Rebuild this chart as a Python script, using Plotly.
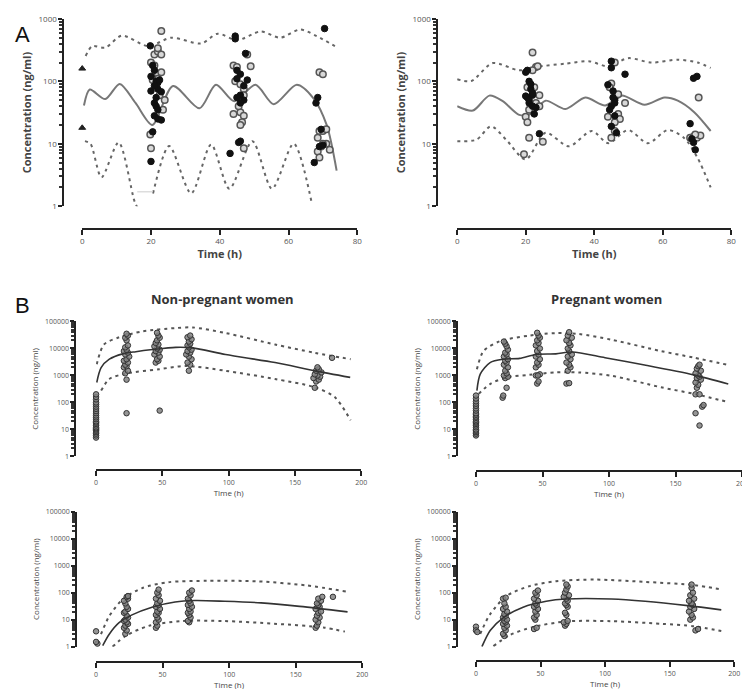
import plotly.graph_objects as go

# ---------- panel A, left ----------
a1_med_t = [0.5, 2.2, 6.7, 10.9, 15.5, 20.4, 26.4, 34.1, 38.9, 44.2, 50.4, 55.7, 62.4, 67.2, 71.1, 74]
a1_med_c = [41, 74, 52, 91, 45, 20, 84, 37, 88, 48, 88, 43, 88, 54, 20, 3.7]
a1_up_t = [1, 2.9, 6.7, 11.5, 19.2, 25.9, 34.6, 39.4, 45.1, 51.9, 57.6, 63.4, 68.2, 73.5]
a1_up_c = [255, 366, 346, 540, 366, 500, 405, 580, 456, 630, 500, 676, 530, 366]
a1_lo_t = [0.8, 2.4, 5.6, 10.6, 15.2, 16.3, None, 20.6, 25.3, 31.7, 37.5, 42.8, 49.5, 55.2, 61.5, 66.8]
a1_lo_c = [11, 10, 2.9, 10.5, 1.2, 0.9, None, 1.6, 9.2, 1.6, 9.7, 1.9, 11, 1.9, 10, 1.1]
a1_fill_t = [19.8, 20.5, 21, 20, 21.5, 22, 20, 22, 23, 21, 21.5, 22, 21, 22, 23, 20.5, 20, 21.5, 22.5, 21,
             44.5, 44.5, 43, 45, 46, 45, 47, 46, 45, 47, 46, 47.5, 46, 45.5, 48,
             70.5, 68.5, 68, 67.5, 69, 70, 69.5]
a1_fill_c = [370, 180, 150, 120, 100, 95, 70, 75, 68, 45, 40, 35, 28, 25, 24, 15.5, 5.2, 55, 105, 85,
             530, 480, 7, 150, 130, 110, 85, 60, 55, 50, 45, 280, 11, 10.5, 105,
             700, 55, 45, 5, 9, 9.5, 17]
a1_open_t = [19.8, 20, 20, 21, 22, 23, 22, 23, 21, 22, 23, 24, 23.5, 22, 20.5, 22.5,
             44, 45, 44.5, 46, 47, 47, 44, 46, 47, 46.5, 46, 48, 49, 47, 45.5,
             69, 70, 68.5, 69, 70, 71, 71, 69.5, 68.5, 72, 69, 70]
a1_open_c = [14, 8.5, 200, 270, 300, 640, 340, 270, 180, 130, 140, 50, 35, 110, 105, 60,
             180, 170, 100, 90, 75, 60, 30, 32, 28, 22, 20, 270, 175, 8.5, 40,
             140, 130, 12.5, 16, 16, 17, 10, 9, 7.5, 8, 6, 10]
a1_tri_t = [0, 0]
a1_tri_c = [160, 18]
a1_gap_t = [16, 20.5]
a1_gap_c = [1.7, 1.7]

# ---------- panel A, right ----------
a2_med_t = [0, 4.6, 9.4, 13.3, 18.1, 21.5, 25.8, 31.6, 37.4, 43.2, 48, 54.7, 60.5, 64.4, 69.2, 74]
a2_med_c = [40, 34, 59, 48, 29, 30, 49, 36, 55, 41, 59, 42, 55, 49, 32, 16]
a2_up_t = [0, 4.1, 10.4, 18.1, 23, 31.6, 38.4, 44.1, 49.9, 56.7, 64.4, 70.2, 74]
a2_up_c = [108, 101, 196, 150, 170, 192, 210, 174, 235, 200, 222, 200, 164]
a2_lo_t = [0, 5.6, 9.9, 14.3, 20, 25.8, 32.6, 39.3, 44.1, 49.9, 55.7, 61.5, 66.3, 70.2, 74]
a2_lo_c = [11, 11.6, 19, 11.6, 5.6, 15, 9.1, 16, 10.2, 16.6, 10.2, 16.6, 12.3, 5.9, 2]
a2_fill_t = [20, 20.5, 21, 21.5, 22, 20, 21, 22, 22.5, 23, 21.5, 20.5, 24, 22, 21,
             45, 45, 44, 45.5, 46, 45, 44.5, 46, 45, 46.5, 49, 45.5, 46,
             68, 69, 70, 69, 69.5, 68.5]
a2_fill_c = [140, 55, 100, 75, 60, 58, 45, 40, 30, 38, 90, 150, 14.5, 65, 50,
             210, 165, 88, 70, 50, 40, 35, 28, 19, 15, 130, 55, 45,
             21, 112, 120, 10.5, 8, 12]
a2_open_t = [20, 19.5, 21, 20.5, 22, 23, 23.5, 22, 24, 25, 23, 22.5, 21, 24, 20.5,
             44, 45, 46.5, 47, 47, 47.5, 46, 45, 46, 49, 46, 44.5,
             68, 69, 70, 71, 70.5, 69.5]
a2_open_c = [27, 6.8, 12.5, 22, 290, 170, 175, 150, 60, 10.8, 45, 80, 35, 40, 80,
             27, 92, 60, 62, 30, 25, 22, 12.5, 16, 45, 200, 80,
             12.5, 13, 12.5, 13.5, 55, 14]

# ---------- panel B, non-pregnant (top) ----------
b1_med_t = [0.5, 3.8, 10, 20, 30, 42.6, 60, 72.7, 97.7, 135, 165, 191.7]
b1_med_c = [550, 1950, 4000, 6300, 7600, 9100, 11000, 10500, 6000, 3000, 1480, 850]
b1_up_t = [0.5, 6, 17.5, 35, 60, 73, 98, 135, 165, 192]
b1_up_c = [2600, 14000, 26000, 43000, 57000, 60000, 37000, 14000, 6900, 4000]
b1_lo_t = [3.8, 10, 22.5, 47.6, 67.7, 98, 135, 165, 180, 192]
b1_lo_c = [275, 740, 1180, 1700, 2250, 1480, 740, 365, 158, 22]
b1_obs_t = [0, 0, 0, 0, 0, 0, 0, 0, 0, 0, 0, 0, 0, 0, 0, 0, 0, 0, 0, 0, 0, 0, 0, 0,
            23, 23, 22, 24, 21, 23, 22, 24, 21, 23, 25, 22, 24, 21, 23, 22, 24, 23, 22, 24, 23,
            48, 45, 47, 46, 48, 44, 47, 45, 48, 46, 44, 47, 45, 46, 48, 47, 46,
            70, 71, 69, 72, 70, 68, 71, 69, 72, 70, 69, 71, 70, 72, 69, 71,
            165, 166, 168, 164, 169, 167, 165, 170, 166, 168, 167, 178]
b1_obs_c = [5, 6, 7, 8, 9, 10, 11, 12, 14, 16, 18, 20, 24, 28, 33, 40, 48, 58, 70, 85, 100, 130, 160, 200,
            40, 700, 1200, 1500, 2000, 2200, 2500, 3000, 3500, 4000, 5000, 6000, 7000, 8000, 9000,
            11000, 13000, 20000, 25000, 30000, 35000,
            50, 3000, 3500, 4000, 5000, 6000, 7000, 8000, 9000, 10000, 12000, 14000, 16000, 20000,
            25000, 30000, 38000,
            1500, 2500, 3000, 4000, 5000, 6000, 7000, 8000, 9000, 11000, 13000, 15000, 18000, 22000,
            26000, 30000,
            350, 600, 700, 800, 900, 1000, 1100, 1300, 1500, 1700, 2000, 4500]

# ---------- panel B, pregnant (top) ----------
b2_med_t = [0.7, 3.2, 10.6, 20.5, 32.8, 45, 60, 72.3, 97, 126.7, 163.7, 189.6]
b2_med_c = [275, 1120, 3000, 4000, 4300, 6000, 6300, 7400, 4550, 2450, 1050, 480]
b2_up_t = [0.7, 5.7, 18, 40, 60, 77, 102, 139, 164, 189.6]
b2_up_c = [1700, 8000, 18600, 30000, 37000, 34500, 21000, 8000, 4550, 2450]
b2_lo_t = [2, 10.6, 23, 40, 60, 77, 102, 139, 164, 189.6]
b2_lo_c = [208, 480, 850, 1050, 1300, 1300, 970, 365, 208, 103]
b2_obs_t = [0, 0, 0, 0, 0, 0, 0, 0, 0, 0, 0, 0, 0, 0, 0, 0, 0, 0, 0, 0, 0, 0,
            20, 20.5, 23, 22, 24, 21, 23, 22, 24, 21, 23, 22, 24, 21, 23, 22, 24, 23, 22, 21,
            46, 47, 45, 48, 46.5, 45, 47, 46, 48, 45, 47, 46, 48, 45, 47, 46, 48, 47, 46,
            68, 70, 69, 71, 70, 68, 71, 69, 72, 70, 69, 71, 70, 68, 72, 69, 70,
            168, 165, 170, 171, 165, 168, 166, 167, 165, 169, 166, 168, 167, 165, 169, 166, 167, 168]
b2_obs_c = [6, 7, 8, 9, 10, 12, 14, 16, 18, 20, 23, 27, 30, 35, 40, 50, 60, 75, 90, 110, 140, 180,
            150, 180, 350, 800, 900, 1000, 1200, 1500, 2000, 2500, 3000, 3500, 4000, 5000, 6000,
            7000, 9000, 12000, 15000, 18000,
            500, 600, 1000, 1100, 1000, 2000, 2500, 3000, 4000, 5000, 6000, 8000, 10000, 13000,
            16000, 20000, 25000, 30000, 38000,
            500, 520, 1500, 2000, 2500, 3000, 4000, 5000, 6000, 8000, 10000, 13000, 16000, 20000,
            25000, 30000, 40000,
            14, 40, 70, 80, 200, 200, 350, 450, 550, 700, 800, 900, 1000, 1200, 1500, 1800, 2200, 2500]

# ---------- panel B, non-pregnant (bottom) ----------
b3_med_t = [5, 9.9, 17.3, 27, 42, 59.4, 74, 96.5, 124, 153, 189]
b3_med_c = [1.1, 2.9, 7.7, 15, 29, 45, 51, 48, 42, 31, 19.5]
b3_up_t = [3.7, 9.9, 19.8, 34.7, 54.5, 84, 121, 158, 188]
b3_up_c = [2.9, 13.5, 55, 148, 245, 275, 263, 186, 110]
b3_lo_t = [12.4, 22.3, 39.6, 64.4, 96.5, 133.7, 171, 187]
b3_lo_c = [1, 2.5, 5.9, 8.9, 8.9, 7.1, 5.1, 3.6]
b3_obs_t = [1, 0, 0,
            22, 23, 21, 22, 24, 23, 21, 22, 24, 23, 21, 22, 24, 23, 22, 21, 24, 23, 24,
            45, 46, 45, 47, 46, 45, 47, 46, 48, 45, 47, 46, 48, 45, 47, 46, 47,
            70, 69, 71, 70, 69, 71, 70, 72, 69, 71, 70, 69, 71, 70, 72,
            165, 166, 167, 165, 168, 166, 167, 169, 165, 168, 167, 166, 169, 167, 170, 178]
b3_obs_c = [1.3, 1.5, 3.7,
            3, 4, 5, 6, 7, 8, 9, 10, 12, 14, 18, 20, 25, 30, 40, 50, 60, 70, 75,
            5, 6, 8, 10, 12, 15, 18, 20, 25, 30, 35, 40, 50, 60, 80, 100, 130,
            8, 9, 12, 15, 18, 20, 25, 30, 35, 40, 50, 60, 80, 100, 120,
            5, 6, 8, 10, 12, 14, 18, 20, 25, 30, 35, 40, 50, 60, 70, 70]

# ---------- panel B, pregnant (bottom) ----------
b4_med_t = [4.6, 11, 21, 36.5, 54.4, 69.7, 105, 131, 164, 190]
b4_med_c = [1, 4, 11.7, 29, 48, 58, 58, 48, 33, 23]
b4_up_t = [3.3, 11, 23.8, 41.6, 62, 92.7, 131, 169, 190]
b4_up_c = [3, 16, 76, 175, 265, 305, 250, 190, 132]
b4_lo_t = [13.5, 26.3, 44, 69.7, 105, 144, 169, 190]
b4_lo_c = [1.05, 2.7, 5.3, 8.6, 8.8, 7, 5.7, 3.8]
b4_obs_t = [0, 0, 1,
            22, 21, 23, 22, 24, 21, 23, 22, 24, 21, 23, 22, 24, 21, 23, 22, 21, 23,
            45, 47, 46, 45, 47, 46, 48, 45, 47, 46, 48, 45, 47, 46, 48,
            69, 70, 68, 71, 70, 69, 71, 70, 69, 71, 70, 68, 72, 69, 70, 71, 70,
            170, 172, 166, 168, 167, 165, 169, 166, 168, 167, 165, 169, 166, 168, 167, 167]
b4_obs_c = [5.5, 4, 3.5,
            2.5, 3, 4, 5, 6, 7, 8, 9, 10, 12, 14, 16, 20, 25, 30, 40, 60, 65,
            4.5, 5, 10, 12, 15, 20, 25, 30, 35, 40, 50, 60, 80, 100, 120,
            6, 7, 8, 9, 15, 18, 30, 35, 40, 50, 60, 70, 80, 100, 130, 170, 200,
            4, 4.5, 10, 12, 15, 20, 25, 30, 35, 40, 50, 60, 80, 100, 150, 200]

a_ticks = [1, 10, 100, 1000]
a_ticktext = ["1", "10", "100", "1000"]
b_ticks = [1, 10, 100, 1000, 10000, 100000]
b_ticktext = ["1", "10", "100", "1000", "10000", "100000"]
W, H = 750, 689


def px(x):
    return x / W


def py(y):
    return 1 - y / H


fig = go.Figure()

# subplot geometry in pixels: y-axis x, y-domain top/bottom, x-domain left/right, x-axis y
panels = [
    dict(yx=54, yt=6, yb=196, xl=73, xr=351, xy=219, xmax=80, xdt=20, ticks=a_ticks, tt=a_ticktext, big=True),
    dict(yx=432, yt=6, yb=196, xl=452, xr=729, xy=219, xmax=80, xdt=20, ticks=a_ticks, tt=a_ticktext, big=True),
    dict(yx=66, yt=313, yb=450, xl=87, xr=355, xy=464, xmax=200, xdt=50, ticks=b_ticks, tt=b_ticktext, big=False),
    dict(yx=452, yt=313, yb=450, xl=471, xr=740, xy=465, xmax=200, xdt=50, ticks=b_ticks, tt=b_ticktext, big=False),
    dict(yx=67, yt=506, yb=643, xl=87, xr=356, xy=659, xmax=200, xdt=50, ticks=b_ticks, tt=b_ticktext, big=False),
    dict(yx=452, yt=506, yb=643, xl=471, xr=732, xy=658, xmax=200, xdt=50, ticks=b_ticks, tt=b_ticktext, big=False),
]

layout_axes = {}
for i, p in enumerate(panels, start=1):
    sfx = "" if i == 1 else str(i)
    ndec = len(p["ticks"]) - 1
    minor_vals = [m * 10 ** k for k in range(ndec) for m in range(2, 10)]
    tick_font = dict(size=8 if p["big"] else 7, color="#555")
    title_font = (dict(size=11, color="#444", family="Open Sans", weight="bold") if p["big"]
                  else dict(size=8, color="#444", family="Open Sans"))
    layout_axes["xaxis" + sfx] = dict(
        domain=[px(p["xl"]), px(p["xr"])], anchor="free", position=py(p["xy"]),
        range=[0, p["xmax"]], dtick=p["xdt"], tick0=0, showline=True, linecolor="#222",
        linewidth=2, ticks="outside", ticklen=5, tickwidth=2, tickcolor="#222",
        showgrid=False, zeroline=False, tickfont=tick_font,
        title=dict(text="Time (h)", font=title_font, standoff=4),
    )
    layout_axes["yaxis" + sfx] = dict(
        domain=[py(p["yb"]), py(p["yt"])], anchor="free", position=px(p["yx"]),
        type="log", range=[0, ndec], tickvals=p["ticks"], ticktext=p["tt"],
        showline=True, linecolor="#222", linewidth=2, ticks="outside", ticklen=4,
        tickwidth=2, tickcolor="#222", showgrid=False, zeroline=False, tickfont=tick_font,
        minor=dict(tickmode="array", tickvals=minor_vals, ticks="outside", ticklen=3,
                   tickcolor="#333", tickwidth=1.5, showgrid=False),
        title=dict(text="Concentration (ng/ml)", font=title_font, standoff=4),
    )


def line(t, c, ax, dash=None, color="#666", width=1.6):
    fig.add_trace(go.Scatter(
        x=t, y=c, mode="lines", xaxis="x" + ax, yaxis="y" + ax,
        line=dict(color=color, width=width, dash=dash, shape="spline", smoothing=0.8),
        connectgaps=False, hoverinfo="skip"))


def pts(t, c, ax, symbol="circle", color="#111", lcolor="#111", size=7, lwidth=1):
    fig.add_trace(go.Scatter(
        x=t, y=c, mode="markers", xaxis="x" + ax, yaxis="y" + ax, cliponaxis=False,
        marker=dict(symbol=symbol, size=size, color=color, line=dict(color=lcolor, width=lwidth))))


dot_a = "3px,4px"
dot_b = "3px,4px"

# panel A left
line(a1_up_t, a1_up_c, "", dot_a, "#666", 2)
line(a1_lo_t, a1_lo_c, "", dot_a, "#666", 2)
line(a1_gap_t, a1_gap_c, "", None, "#ddd", 1.5)
line(a1_med_t, a1_med_c, "", None, "#777", 2)
pts(a1_open_t, a1_open_c, "", color="#d8d8d8", lcolor="#555", size=6.5, lwidth=1.5)
pts(a1_fill_t, a1_fill_c, "", color="#111", lcolor="#111", size=6.5)
pts(a1_tri_t, a1_tri_c, "", symbol="triangle-up", color="#222", lcolor="#222", size=6)

# panel A right
line(a2_up_t, a2_up_c, "2", dot_a, "#666", 2)
line(a2_lo_t, a2_lo_c, "2", dot_a, "#666", 2)
line(a2_med_t, a2_med_c, "2", None, "#777", 2)
pts(a2_open_t, a2_open_c, "2", color="#d8d8d8", lcolor="#555", size=6.5, lwidth=1.5)
pts(a2_fill_t, a2_fill_c, "2", color="#111", lcolor="#111", size=6.5)

# panel B
for ax, (mt, mc, ut, uc, lt, lc, ot, oc) in zip(
        ["3", "4", "5", "6"],
        [(b1_med_t, b1_med_c, b1_up_t, b1_up_c, b1_lo_t, b1_lo_c, b1_obs_t, b1_obs_c),
         (b2_med_t, b2_med_c, b2_up_t, b2_up_c, b2_lo_t, b2_lo_c, b2_obs_t, b2_obs_c),
         (b3_med_t, b3_med_c, b3_up_t, b3_up_c, b3_lo_t, b3_lo_c, b3_obs_t, b3_obs_c),
         (b4_med_t, b4_med_c, b4_up_t, b4_up_c, b4_lo_t, b4_lo_c, b4_obs_t, b4_obs_c)]):
    line(ut, uc, ax, dot_b, "#555", 2)
    line(lt, lc, ax, dot_b, "#555", 2)
    pts(ot, oc, ax, color="rgba(130,130,130,0.85)", lcolor="#333", size=5.5, lwidth=1)
    line(mt, mc, ax, None, "#333", 1.6)

annotations = [
    dict(text="A", x=px(3), y=py(22), xanchor="left", yanchor="middle",
         font=dict(size=22, color="#111", family="Liberation Sans")),
    dict(text="B", x=px(3), y=py(297), xanchor="left", yanchor="middle",
         font=dict(size=22, color="#111", family="Liberation Sans")),
    dict(text="<b>Non-pregnant women</b>", x=px(215), y=py(290), xanchor="center", yanchor="middle",
         font=dict(size=13, color="#333", family="Open Sans")),
    dict(text="<b>Pregnant women</b>", x=px(603), y=py(290), xanchor="center", yanchor="middle",
         font=dict(size=13, color="#333", family="Open Sans")),
]
for a in annotations:
    a.update(xref="paper", yref="paper", showarrow=False)

fig.update_layout(
    width=W, height=H, margin=dict(l=0, r=0, t=0, b=0),
    paper_bgcolor="white", plot_bgcolor="white", showlegend=False,
    font=dict(family="Open Sans", color="#333"),
    annotations=annotations, **layout_axes,
)

fig.write_html("out.html")
